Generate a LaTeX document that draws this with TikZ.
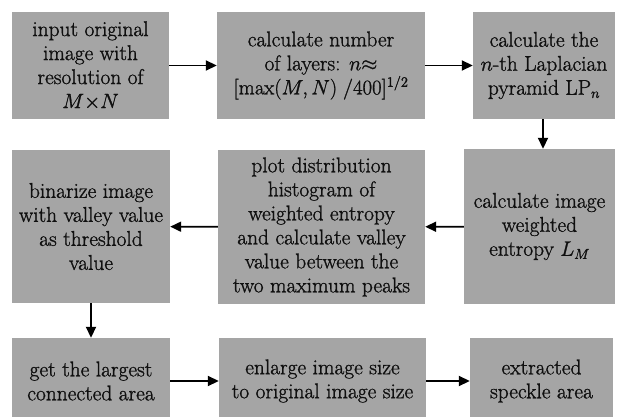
\documentclass[tikz,border=0pt]{standalone}
\usetikzlibrary{arrows.meta}
\definecolor{boxgray}{RGB}{165,165,165}
\definecolor{inkc}{RGB}{15,15,15}
\newcommand{\heavytext}{\special{pdf:literal 2 Tr 0.25 w}}
\tikzset{
  stepbox/.style={rectangle, fill=boxgray, draw=none, align=center, inner sep=0pt,
    font=\fontsize{21.4}{24}\selectfont\heavytext, text=inkc},
  flow/.style={draw=black, line width=1.8pt, -{Triangle[length=11pt,width=10pt]}}
}
\begin{document}
\begin{tikzpicture}[x=1pt,y=-1pt]
\clip (0,0) rectangle (619,417);
\fill[white] (0,0) rectangle (619,417);
% row 1
\node[stepbox, minimum width=157pt, minimum height=107pt] (b1) at (90.5,65.5)
  {input original\\image with\\resolution of\\$M{\times}N$};
\node[stepbox, minimum width=208pt, minimum height=107pt] (b2) at (321,65.5)
  {calculate number\\of layers: $n{\approx}$\\$[\max(M,N)\;/400]^{1/2}$};
\node[stepbox, minimum width=142pt, minimum height=107pt] (b3) at (544,65.5)
  {calculate the\\$n$-th Laplacian\\pyramid LP$_n$};
% row 2
\node[stepbox, minimum width=158pt, minimum height=153pt] (b4) at (91,226.5)
  {binarize image\\with valley value\\as threshold\\value};
\node[stepbox, minimum width=207pt, minimum height=154pt] (b5) at (321.5,227)
  {plot distribution\\histogram of\\weighted entropy\\and calculate valley\\value between the\\two maximum peaks};
\node[stepbox, minimum width=151pt, minimum height=155pt] (b6) at (539.5,226.5)
  {calculate image\\weighted\\entropy $L_M$};
% row 3
\node[stepbox, minimum width=158pt, minimum height=86pt] (b7) at (91,381)
  {get the largest\\connected area};
\node[stepbox, minimum width=207pt, minimum height=86pt] (b8) at (322.5,381)
  {enlarge image size\\to original image size};
\node[stepbox, minimum width=143pt, minimum height=86pt] (b9) at (541.5,381)
  {extracted\\speckle area};
% connectors
\draw[flow] (b1) -- (b2);
\draw[flow] (b2) -- (b3);
\draw[flow] ([xshift=-1pt]b3.south) -- ([xshift=-1pt]b3.south |- b6.north);
\draw[flow] (b6) -- (b5);
\draw[flow] (b5) -- (b4);
\draw[flow] (b4) -- (b7);
\draw[flow] (b7) -- (b8);
\draw[flow] (b8) -- (b9);
\end{tikzpicture}
\end{document}
